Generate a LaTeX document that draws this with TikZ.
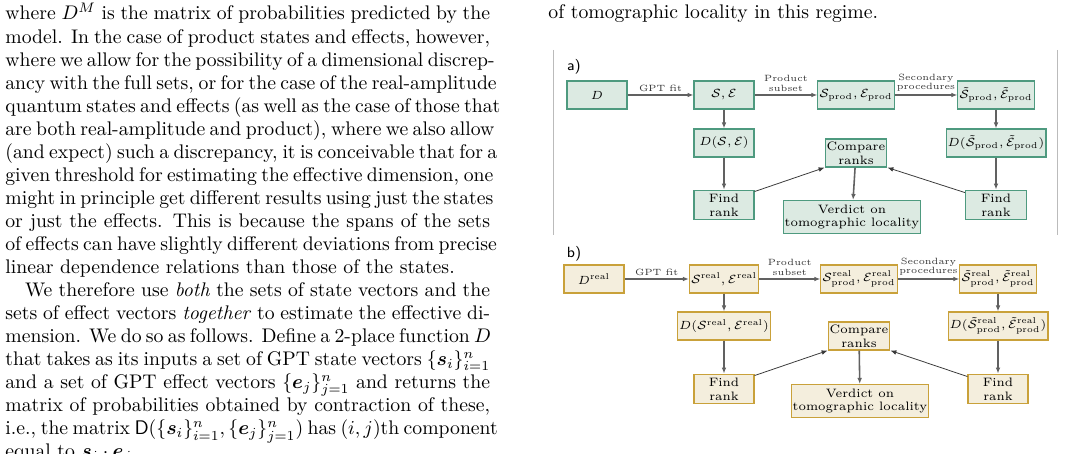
\documentclass[tikz,border=0pt]{standalone}
\usepackage{amsmath}
\usepackage{bm}
\usetikzlibrary{arrows.meta, positioning}
\definecolor{figgreen}{HTML}{4E9A7F}
\definecolor{figgreenfill}{HTML}{DCEAE2}
\definecolor{figgold}{HTML}{C9A13A}
\definecolor{figgoldfill}{HTML}{F4EEDD}
\definecolor{figarrow}{HTML}{3A3A3A}
\definecolor{figframe}{HTML}{BBBBBB}
\newcommand{\fullline}[1]{\makebox[246pt][s]{#1}}
\begin{document}
\begin{tikzpicture}[
    x=0.01783cm, y=-0.01783cm,
    step/.style={rectangle, draw=#1, fill=#1fill, line width=0.6pt, inner sep=0.8pt, minimum height=0.5cm, align=center, font=\fontsize{6.2}{7}\selectfont},
    flow/.style={-{Latex[length=3pt,width=2.4pt]}, draw=figarrow!80, line width=0.8pt},
    side/.style={-{Latex[length=3pt,width=2.4pt]}, draw=figarrow, line width=0.4pt},
    tag/.style={font=\fontsize{4.6}{5}\selectfont, align=center, text=black!80, inner sep=0.3pt, above=1pt},
    panel/.style={font=\sffamily\fontsize{7.5}{8}\selectfont},
]
\useasboundingbox (0,0) rectangle (1066,454);

% text column
\node[anchor=north west, inner sep=0pt, align=left, font=\fontsize{10}{11.7}\selectfont] (col) at (5,3) {%
\strut\fullline{where $D^M$ is the matrix of probabilities predicted by the}\\
\fullline{model. In the case of product states and effects, however,}\\
\fullline{where we allow for the possibility of a dimensional discrep-}\\
\fullline{ancy with the full sets, or for the case of the real-amplitude}\\
\fullline{quantum states and effects (as well as the case of those that}\\
\fullline{are both real-amplitude and product), where we also allow}\\
\fullline{(and expect) such a discrepancy, it is conceivable that for a}\\
\fullline{given threshold for estimating the effective dimension, one}\\
\fullline{might in principle get different results using just the states}\\
\fullline{or just the effects. This is because the spans of the sets}\\
\fullline{of effects can have slightly different deviations from precise}\\
linear dependence relations than those of the states.\\
\fullline{\hspace*{10pt}We therefore use \emph{both} the sets of state vectors and the}\\
\fullline{sets of effect vectors \emph{together} to estimate the effective di-}\\
\fullline{mension. We do so as follows. Define a 2-place function $D$}\\
\fullline{that takes as its inputs a set of GPT state vectors $\{\bm{s}_i\}_{i=1}^n$}\\
\fullline{and a set of GPT effect vectors $\{\bm{e}_j\}_{j=1}^n$ and returns the}\\
\fullline{matrix of probabilities obtained by contraction of these,}\\
\fullline{i.e., the matrix $\mathsf{D}(\{\bm{s}_i\}_{i=1}^n,\{\bm{e}_j\}_{j=1}^n)$ has $(i,j)$th component}\\
equal to $\bm{s}_i\cdot\bm{e}_j$.};
\node[anchor=base west, inner sep=0pt, font=\fontsize{10}{11.7}\selectfont] (cont) at (548,19) {of tomographic locality in this regime.};

% frame of panel a
\draw[figframe, line width=0.5pt] (553,50) -- (553,235);
\draw[figframe, line width=0.5pt] (1057,50) -- (1057,235);

% panel a
\node[panel] (pa) at (574,67) {a)};
\node[step=figgreen, minimum width=1.07cm] (aD) at (597,95) {$D$};
\node[step=figgreen, minimum width=1.07cm] (aSE) at (724,95) {$\mathcal{S},\mathcal{E}$};
\node[step=figgreen, minimum width=1.28cm] (aprod) at (856,95) {$\mathcal{S}_{\text{prod}},\mathcal{E}_{\text{prod}}$};
\node[step=figgreen, minimum width=1.28cm] (asec) at (996,95) {$\tilde{\mathcal{S}}_{\text{prod}},\tilde{\mathcal{E}}_{\text{prod}}$};
\node[step=figgreen, minimum width=1.07cm] (aDSE) at (724,143) {$D(\mathcal{S},\mathcal{E})$};
\node[step=figgreen, minimum width=1.09cm] (acmp) at (856,153) {Compare\\ranks};
\node[step=figgreen, minimum width=1.69cm] (aDsec) at (996,143) {$D(\tilde{\mathcal{S}}_{\text{prod}},\tilde{\mathcal{E}}_{\text{prod}})$};
\node[step=figgreen, minimum width=1.07cm, minimum height=0.53cm] (arankL) at (724,205) {Find\\rank};
\node[step=figgreen, minimum width=2.14cm, minimum height=0.59cm] (averd) at (852,217) {Verdict on\\tomographic locality};
\node[step=figgreen, minimum width=1.09cm, minimum height=0.53cm] (arankR) at (996,205) {Find\\rank};

\draw[flow] (aD) -- node[tag] {GPT fit} (aSE);
\draw[flow] (aSE) -- node[tag] {Product\\subset} (aprod);
\draw[flow] (aprod) -- node[tag] {Secondary\\procedures} (asec);
\draw[flow] (aSE) -- (aDSE);
\draw[flow] (aDSE) -- (arankL);
\draw[flow] (asec) -- (aDsec);
\draw[flow] (aDsec) -- (arankR);
\draw[flow] (acmp) -- (averd);
\draw[side] (arankL.north east) ++(0,2) -- (acmp.south west);
\draw[side] (arankR.north west) ++(0,3) -- (acmp.south east);

% panel b
\node[panel] (pb) at (574,254) {b)};
\node[step=figgold, minimum width=1.07cm] (bD) at (594,279) {$D^{\text{real}}$};
\node[step=figgold, minimum width=1.19cm] (bSE) at (724,279) {$\mathcal{S}^{\text{real}},\mathcal{E}^{\text{real}}$};
\node[step=figgold, minimum width=1.28cm] (bprod) at (859,279) {$\mathcal{S}^{\text{real}}_{\text{prod}},\mathcal{E}^{\text{real}}_{\text{prod}}$};
\node[step=figgold, minimum width=1.28cm] (bsec) at (998,279) {$\tilde{\mathcal{S}}^{\text{real}}_{\text{prod}},\tilde{\mathcal{E}}^{\text{real}}_{\text{prod}}$};
\node[step=figgold, minimum width=1.57cm] (bDSE) at (724,326) {$D(\mathcal{S}^{\text{real}},\mathcal{E}^{\text{real}})$};
\node[step=figgold, minimum width=1.07cm] (bcmp) at (859,336) {Compare\\ranks};
\node[step=figgold, minimum width=1.69cm] (bDsec) at (998,326) {$D(\tilde{\mathcal{S}}^{\text{real}}_{\text{prod}},\tilde{\mathcal{E}}^{\text{real}}_{\text{prod}})$};
\node[step=figgold, minimum width=1.07cm, minimum height=0.53cm] (brankL) at (724,389) {Find\\rank};
\node[step=figgold, minimum width=2.32cm, minimum height=0.59cm] (bverd) at (860,401) {Verdict on\\tomographic locality};
\node[step=figgold, minimum width=1.07cm, minimum height=0.53cm] (brankR) at (998,389) {Find\\rank};

\draw[flow] (bD) -- node[tag] {GPT fit} (bSE);
\draw[flow] (bSE) -- node[tag] {Product\\subset} (bprod);
\draw[flow] (bprod) -- node[tag] {Secondary\\procedures} (bsec);
\draw[flow] (bSE) -- (bDSE);
\draw[flow] (bDSE) -- (brankL);
\draw[flow] (bsec) -- (bDsec);
\draw[flow] (bDsec) -- (brankR);
\draw[flow] (bcmp) -- (bverd);
\draw[side] (brankL.north east) ++(0,2) -- (bcmp.south west);
\draw[side] (brankR.north west) ++(0,3) -- (bcmp.south east);
\end{tikzpicture}
\end{document}
